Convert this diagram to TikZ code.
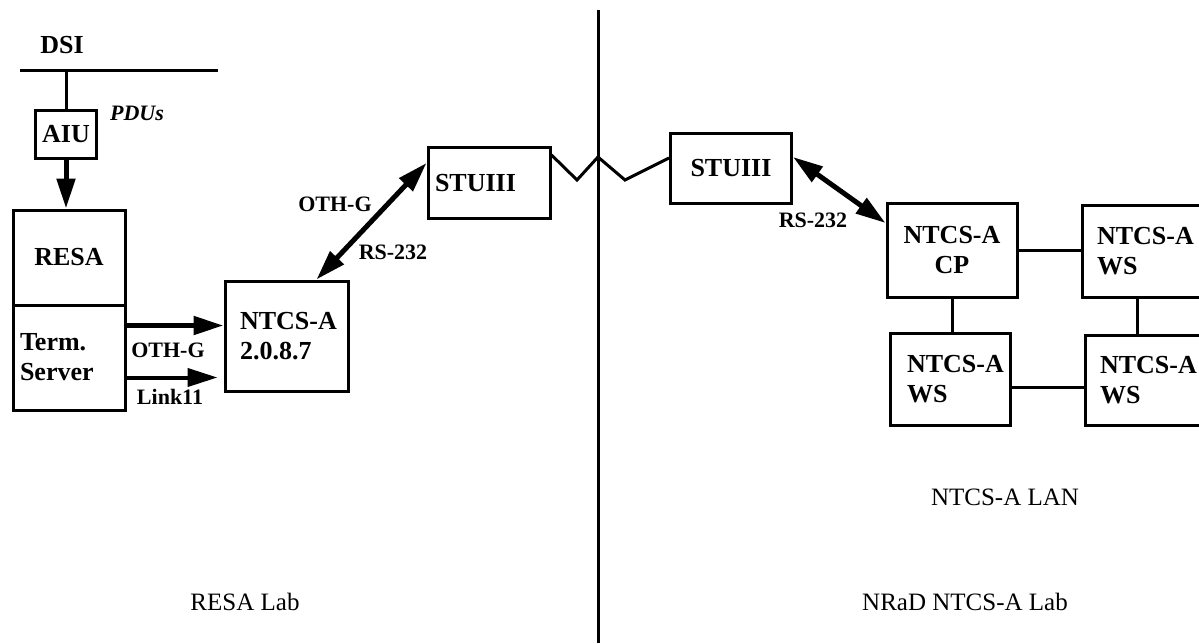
\documentclass[tikz,border=0pt]{standalone}
\usepackage{fontspec}
\setmainfont{Liberation Serif}
\usetikzlibrary{arrows.meta}
\exhyphenpenalty=10000

\begin{document}
\begin{tikzpicture}[x=0.5pt, y=-0.5pt,
  box/.style={draw, line width=1.5pt, inner sep=0pt, font=\fontsize{13}{15}\selectfont\bfseries, align=center},
  lbox/.style={box, align=left},
  tag/.style={font=\fontsize{11}{13}\selectfont\bfseries, inner sep=1pt},
  title/.style={font=\fontsize{12.5}{15}\selectfont},
  wire/.style={line width=1.5pt},
  flow/.style={line width=2.5pt},
  >={Triangle[length=15pt,width=9pt]}]
\clip (0,0) rectangle (1199,643);

% RESA lab side
\node[font=\fontsize{13}{15}\selectfont\bfseries] (dsi) at (62,45) {DSI};
\coordinate (busL) at (20,70);
\coordinate (busR) at (218,70);
\node[box, minimum width=30.5pt, minimum height=24pt] (aiu) at (66,134) {AIU};
\node[tag, font=\fontsize{11}{13}\selectfont\bfseries\itshape] (pdus) at (137,113) {PDUs};
\node[box, minimum width=56pt, minimum height=47.5pt] (resa) at (69,257.5) {RESA};
\node[lbox, minimum width=56pt, minimum height=52.5pt, inner xsep=3.5pt, text width=49pt] (term) at (69,357.5) {Term.\\Server};
\node[lbox, minimum width=61.5pt, minimum height=55pt, inner xsep=7.5pt, text width=46.5pt] (ntcs) at (286.5,336) {NTCS-A\\2.0.8.7};
\node[lbox, minimum width=61pt, minimum height=35.5pt, inner xsep=3.5pt, text width=54pt] (stuL) at (489,183) {STUIII};

\draw[wire] (busL) -- (busR);
\draw[wire] (aiu.north) -- (aiu.north |- busL);
\draw[flow, ->] (aiu.south) -- (aiu.south |- resa.north);
\draw[flow, ->] ([yshift=16pt]term.east) -- ([yshift=16pt]term.east -| ntcs.west);
\draw[flow, ->, line width=2pt, shorten >=3pt] ([yshift=-10pt]term.east) -- ([yshift=-10pt]term.east -| ntcs.west);
\node[tag] (othg) at (168,350) {OTH-G};
\node[tag] (link) at (170,397) {Link11};
\draw[flow, <->] ([xshift=15pt]ntcs.north) -- ([yshift=10pt]stuL.west);
\node[tag] (othg2) at (335,204) {OTH-G};
\node[tag] (rsL) at (393,252) {RS-232};
\node[title] (resalab) at (245,602) {RESA Lab};

% divider and phone line
\coordinate (divT) at (598,10);
\coordinate (divB) at (598,643);
\draw[wire] (divT) -- (divB);
\coordinate (zA) at (577,180);
\coordinate (zB) at (598,157);
\coordinate (zC) at (625,180);

% NRaD side
\node[box, minimum width=60.5pt, minimum height=35pt] (stuR) at (731,168) {STUIII};
\draw[wire] ([yshift=14pt]stuL.east) -- (zA) -- (zB) -- (zC) -- ([yshift=5pt]stuR.west);
\node[box, minimum width=65pt, minimum height=47pt] (cp) at (952,250) {NTCS-A\\CP};
\node[lbox, minimum width=61.5pt, minimum height=46pt, inner xsep=7.5pt, text width=46.5pt] (wsA) at (1143.5,251) {NTCS-A\\WS};
\node[lbox, minimum width=60pt, minimum height=46pt, inner xsep=8.5pt, text width=43pt] (wsB) at (950,379) {NTCS-A\\WS};
\node[lbox, minimum width=60pt, minimum height=45pt, inner xsep=7.5pt, text width=45pt] (wsC) at (1145,380) {NTCS-A\\WS};
\draw[flow, <->] ([yshift=5.5pt]stuR.east) -- ([yshift=13.5pt]cp.west);
\node[tag] (rsR) at (813,220) {RS-232};
\draw[wire] (cp.east) -- (cp.east -| wsA.west);
\draw[wire] (cp.south) -- (cp.south |- wsB.north);
\draw[wire] ([xshift=-3pt]wsA.south) -- ([xshift=-3pt]wsA.south |- wsC.north);
\draw[wire] ([yshift=-4pt]wsB.east) -- ([yshift=-4pt]wsB.east -| wsC.west);
\node[title] (lan) at (1005,497) {NTCS-A LAN};
\node[title] (nradlab) at (965,602) {NRaD NTCS-A Lab};
\end{tikzpicture}
\end{document}
